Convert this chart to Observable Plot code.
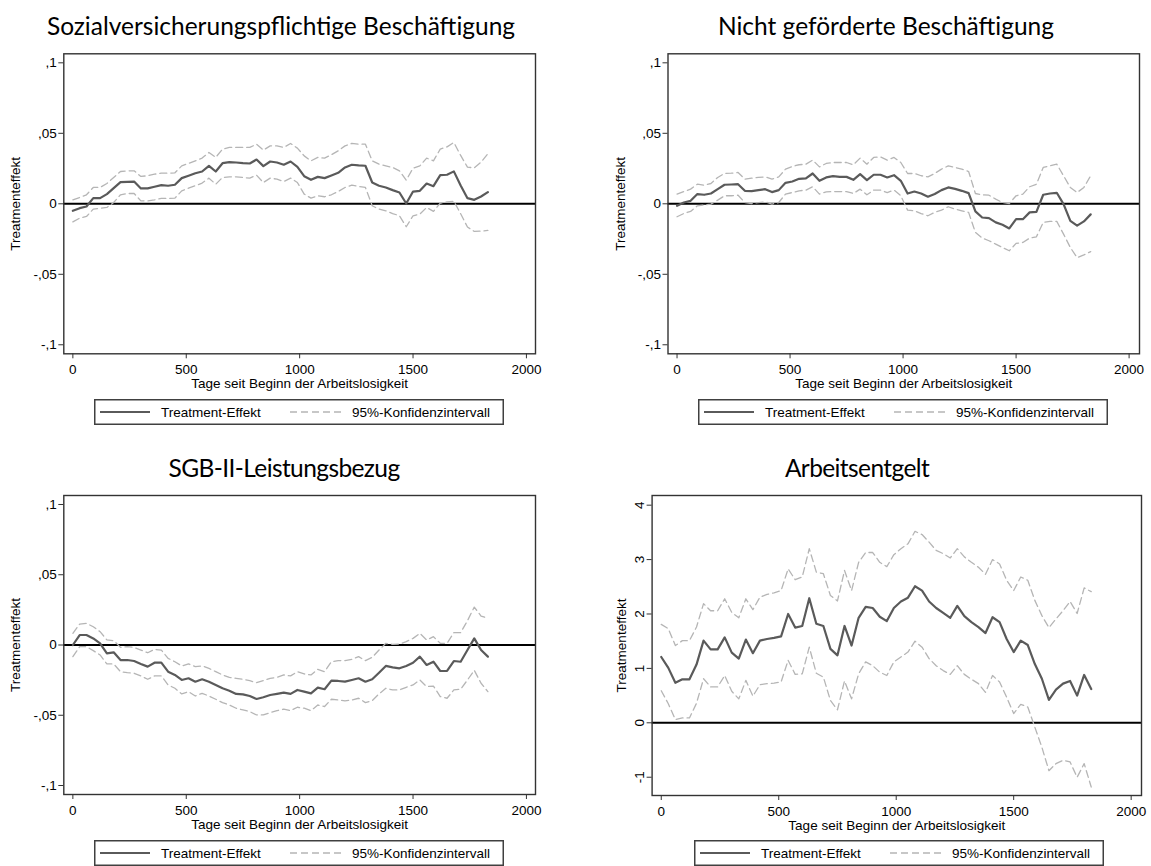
<!DOCTYPE html>
<html>
<head>
<meta charset="utf-8">
<script src="https://cdn.jsdelivr.net/npm/d3@7"></script>
<script src="https://cdn.jsdelivr.net/npm/@observablehq/plot@0.6"></script>
<style>
  html, body { margin: 0; padding: 0; background: #fff; }
  #root { position: relative; width: 1151px; height: 866px; overflow: hidden; background: #fff; }
  #root svg { position: absolute; }
  .title { position: absolute; transform: translateX(-50%); white-space: nowrap;
           font-family: Lato, "Open Sans", sans-serif; font-size: 24.5px; line-height: 1; color: #000; }
</style>
</head>
<body>
<div id="root"></div>
<script>
// ---------- data ----------
const days = [0,30,60,90,120,150,180,210,240,270,300,330,360,390,420,450,480,510,540,570,600,630,660,690,720,750,780,810,840,870,900,930,960,990,1020,1050,1080,1110,1140,1170,1200,1230,1260,1290,1320,1350,1380,1410,1440,1470,1500,1530,1560,1590,1620,1650,1680,1710,1740,1770,1800,1830];

const titles = ["Sozialversicherungspflichtige Beschäftigung", "Nicht geförderte Beschäftigung", "SGB-II-Leistungsbezug", "Arbeitsentgelt"];
const xLabel = "Tage seit Beginn der Arbeitslosigkeit";
const yLabel = "Treatmenteffekt";
const legendLabels = ["Treatment-Effekt", "95%-Konfidenzintervall"];

const xTicks = [0, 500, 1000, 1500, 2000];
const xTickLabels = ["0", "500", "1000", "1500", "2000"];
const shareTicks = [-0.1, -0.05, 0, 0.05, 0.1];
const shareTickLabels = ["-,1", "-,05", "0", ",05", ",1"];
const wageTicks = [-1, 0, 1, 2, 3, 4];
const wageTickLabels = ["-1", "0", "1", "2", "3", "4"];

// Sozialversicherungspflichtige Beschäftigung
const svbEffect = [-0.0050,-0.0031,-0.0019,0.0040,0.0040,0.0069,0.0111,0.0154,0.0156,0.0158,
  0.0109,0.0109,0.0121,0.0132,0.0128,0.0135,0.0182,0.0199,0.0217,0.0229,
  0.0269,0.0229,0.0288,0.0295,0.0293,0.0288,0.0286,0.0314,0.0267,0.0300,
  0.0293,0.0277,0.0300,0.0262,0.0196,0.0170,0.0191,0.0182,0.0201,0.0220,
  0.0258,0.0277,0.0272,0.0270,0.0151,0.0128,0.0116,0.0097,0.0080,0.0002,
  0.0087,0.0092,0.0144,0.0125,0.0203,0.0206,0.0230,0.0130,0.0040,0.0028,
  0.0052,0.0083];
const svbUpper = [0.0028,0.0045,0.0064,0.0116,0.0116,0.0144,0.0187,0.0229,0.0234,0.0234,
  0.0194,0.0199,0.0210,0.0217,0.0217,0.0220,0.0269,0.0286,0.0305,0.0324,
  0.0364,0.0329,0.0388,0.0400,0.0400,0.0400,0.0400,0.0423,0.0381,0.0411,
  0.0411,0.0400,0.0428,0.0395,0.0340,0.0305,0.0329,0.0324,0.0348,0.0376,
  0.0411,0.0428,0.0423,0.0423,0.0305,0.0281,0.0269,0.0258,0.0234,0.0168,
  0.0253,0.0269,0.0324,0.0305,0.0388,0.0404,0.0435,0.0343,0.0260,0.0255,
  0.0296,0.0355];
const svbLower = [-0.0128,-0.0102,-0.0090,-0.0038,-0.0031,-0.0026,0.0009,0.0064,0.0073,0.0073,
  0.0021,0.0021,0.0028,0.0038,0.0038,0.0040,0.0092,0.0111,0.0128,0.0147,
  0.0182,0.0139,0.0187,0.0191,0.0191,0.0187,0.0182,0.0203,0.0151,0.0182,
  0.0175,0.0158,0.0182,0.0151,0.0069,0.0040,0.0057,0.0050,0.0064,0.0087,
  0.0116,0.0132,0.0123,0.0116,-0.0014,-0.0038,-0.0050,-0.0069,-0.0085,-0.0163,
  -0.0085,-0.0073,-0.0026,-0.0054,0.0005,0.0014,0.0018,-0.0071,-0.0165,-0.0196,
  -0.0194,-0.0189];

// Nicht geförderte Beschäftigung
const ngbEffect = [-0.0014,0.0009,0.0021,0.0069,0.0064,0.0073,0.0104,0.0135,0.0137,0.0139,
  0.0092,0.0090,0.0097,0.0104,0.0083,0.0097,0.0149,0.0158,0.0177,0.0180,
  0.0215,0.0163,0.0187,0.0196,0.0191,0.0191,0.0170,0.0210,0.0168,0.0206,
  0.0206,0.0187,0.0203,0.0163,0.0073,0.0087,0.0073,0.0050,0.0069,0.0097,
  0.0116,0.0106,0.0092,0.0076,-0.0054,-0.0097,-0.0102,-0.0132,-0.0149,-0.0175,
  -0.0109,-0.0109,-0.0061,-0.0057,0.0064,0.0073,0.0078,-0.0002,-0.0121,-0.0155,
  -0.0125,-0.0075];
const ngbUpper = [0.0069,0.0087,0.0104,0.0139,0.0132,0.0144,0.0187,0.0215,0.0217,0.0222,
  0.0175,0.0182,0.0187,0.0191,0.0175,0.0191,0.0246,0.0265,0.0277,0.0281,
  0.0310,0.0262,0.0286,0.0293,0.0293,0.0293,0.0277,0.0324,0.0281,0.0329,
  0.0333,0.0310,0.0329,0.0293,0.0215,0.0215,0.0199,0.0191,0.0215,0.0246,
  0.0269,0.0258,0.0246,0.0229,0.0073,0.0064,0.0061,0.0033,0.0009,0.0002,
  0.0057,0.0069,0.0121,0.0139,0.0258,0.0269,0.0281,0.0199,0.0116,0.0080,
  0.0116,0.0199];
const ngbLower = [-0.0092,-0.0069,-0.0054,-0.0014,-0.0009,-0.0002,0.0026,0.0057,0.0057,0.0061,
  0.0009,0.0002,0.0009,0.0014,-0.0002,0.0009,0.0069,0.0080,0.0092,0.0097,
  0.0121,0.0069,0.0085,0.0087,0.0087,0.0087,0.0073,0.0104,0.0064,0.0097,
  0.0097,0.0080,0.0097,0.0057,-0.0045,-0.0050,-0.0069,-0.0085,-0.0061,-0.0045,
  -0.0021,-0.0038,-0.0050,-0.0061,-0.0203,-0.0243,-0.0262,-0.0286,-0.0310,-0.0333,
  -0.0281,-0.0274,-0.0243,-0.0234,-0.0132,-0.0125,-0.0125,-0.0215,-0.0310,-0.0382,
  -0.0363,-0.0339];

// SGB-II-Leistungsbezug
const sgbEffect = [0.0000,0.0071,0.0071,0.0047,0.0012,-0.0059,-0.0052,-0.0107,-0.0107,-0.0114,
  -0.0135,-0.0154,-0.0126,-0.0126,-0.0190,-0.0213,-0.0249,-0.0237,-0.0261,-0.0244,
  -0.0261,-0.0284,-0.0308,-0.0325,-0.0348,-0.0351,-0.0363,-0.0384,-0.0372,-0.0356,
  -0.0348,-0.0339,-0.0348,-0.0320,-0.0332,-0.0344,-0.0303,-0.0315,-0.0254,-0.0256,
  -0.0261,-0.0249,-0.0237,-0.0261,-0.0244,-0.0197,-0.0149,-0.0159,-0.0166,-0.0149,
  -0.0126,-0.0083,-0.0142,-0.0119,-0.0185,-0.0185,-0.0114,-0.0119,-0.0036,0.0047,
  -0.0036,-0.0083];
const sgbUpper = [0.0083,0.0149,0.0154,0.0130,0.0095,0.0036,0.0031,-0.0017,-0.0012,-0.0017,
  -0.0036,-0.0055,-0.0031,-0.0036,-0.0095,-0.0119,-0.0149,-0.0135,-0.0154,-0.0149,
  -0.0166,-0.0190,-0.0213,-0.0230,-0.0237,-0.0244,-0.0254,-0.0268,-0.0254,-0.0237,
  -0.0230,-0.0213,-0.0220,-0.0190,-0.0206,-0.0213,-0.0173,-0.0190,-0.0119,-0.0111,
  -0.0111,-0.0102,-0.0083,-0.0111,-0.0088,-0.0036,0.0012,0.0005,0.0007,0.0024,
  0.0047,0.0083,0.0036,0.0059,0.0012,0.0012,0.0088,0.0088,0.0173,0.0270,
  0.0206,0.0190];
const sgbLower = [-0.0083,-0.0012,-0.0012,-0.0040,-0.0071,-0.0135,-0.0135,-0.0190,-0.0197,-0.0201,
  -0.0220,-0.0244,-0.0220,-0.0220,-0.0284,-0.0308,-0.0348,-0.0332,-0.0363,-0.0344,
  -0.0363,-0.0386,-0.0410,-0.0427,-0.0450,-0.0462,-0.0474,-0.0498,-0.0498,-0.0481,
  -0.0467,-0.0457,-0.0467,-0.0443,-0.0450,-0.0467,-0.0427,-0.0438,-0.0386,-0.0391,
  -0.0398,-0.0391,-0.0379,-0.0410,-0.0396,-0.0348,-0.0308,-0.0320,-0.0320,-0.0301,
  -0.0284,-0.0249,-0.0296,-0.0292,-0.0367,-0.0379,-0.0320,-0.0315,-0.0249,-0.0180,
  -0.0272,-0.0332];

// Arbeitsentgelt
const wageEffect = [1.21,1.01,0.735,0.80,0.80,1.07,1.51,1.35,1.35,1.57,
  1.29,1.18,1.53,1.28,1.51,1.54,1.56,1.59,2.00,1.75,
  1.78,2.29,1.82,1.78,1.36,1.24,1.78,1.42,1.93,2.13,
  2.11,1.95,1.87,2.11,2.23,2.30,2.51,2.43,2.23,2.11,
  2.02,1.93,2.15,1.96,1.85,1.76,1.65,1.94,1.85,1.54,
  1.30,1.51,1.43,1.08,0.81,0.42,0.61,0.72,0.77,0.50,
  0.88,0.62];
const wageUpper = [1.81,1.73,1.42,1.51,1.51,1.76,2.19,2.06,2.06,2.28,
  2.03,1.93,2.28,2.08,2.31,2.36,2.39,2.43,2.83,2.63,
  2.68,3.20,2.77,2.74,2.34,2.24,2.80,2.43,2.95,3.13,
  3.13,2.95,2.87,3.09,3.20,3.29,3.52,3.46,3.32,3.17,
  3.11,3.03,3.20,3.05,2.95,2.86,2.73,3.00,2.92,2.62,
  2.43,2.68,2.62,2.25,1.97,1.75,1.91,2.06,2.23,2.01,
  2.48,2.41];
const wageLower = [0.59,0.35,0.06,0.09,0.09,0.36,0.81,0.66,0.66,0.87,
  0.58,0.44,0.78,0.49,0.70,0.72,0.73,0.75,1.15,0.89,
  0.90,1.39,0.91,0.84,0.41,0.24,0.77,0.44,0.90,1.12,
  1.05,0.93,0.87,1.12,1.21,1.30,1.50,1.39,1.18,1.05,
  0.96,0.89,1.05,0.89,0.80,0.72,0.56,0.87,0.75,0.47,
  0.17,0.34,0.29,-0.08,-0.45,-0.88,-0.75,-0.69,-0.72,-1.00,
  -0.75,-1.18];

// ---------- styling / layout ----------
const EFFECT_COLOR = "#5a5a5a";
const CI_COLOR = "#b5b5b5";
const FRAME_COLOR = "#333333";
const FONT = '"Liberation Sans", Arial, sans-serif';

const panels = [
  {title: titles[0], effect: svbEffect, lower: svbLower, upper: svbUpper,
   ticks: shareTicks, tickLabels: shareTickLabels, yDomain: [-0.1064, 0.1064], xDomain: [-40, 2040],
   left: 0, top: 0, w: 575, h: 433, mL: 63.3, mR: 40, mT: 53.3, mB: 79.7, yTitleDx: -48.3, rotate: 0,
   titleX: 281, titleTop: 14, titleSpacing: 0, legendX: 299, legendTop: 399},
  {title: titles[1], effect: ngbEffect, lower: ngbLower, upper: ngbUpper,
   ticks: shareTicks, tickLabels: shareTickLabels, yDomain: [-0.1064, 0.1064], xDomain: [-40, 2046],
   left: 575, top: 0, w: 576, h: 433, mL: 92.5, mR: 12, mT: 53.3, mB: 79.7, yTitleDx: -47.5, rotate: 0,
   titleX: 886, titleTop: 14, titleSpacing: 0, legendX: 903, legendTop: 399},
  {title: titles[2], effect: sgbEffect, lower: sgbLower, upper: sgbUpper,
   ticks: shareTicks, tickLabels: shareTickLabels, yDomain: [-0.1064, 0.1064], xDomain: [-40, 2040],
   left: 0, top: 433, w: 575, h: 433, mL: 63.3, mR: 40, mT: 62, mB: 72, yTitleDx: -48.3, rotate: 0,
   titleX: 284, titleTop: 456, titleSpacing: -0.6, legendX: 299, legendTop: 840},
  {title: titles[3], effect: wageEffect, lower: wageLower, upper: wageUpper,
   ticks: wageTicks, tickLabels: wageTickLabels, yDomain: [-1.336, 4.178], xDomain: [-39, 2044],
   left: 575, top: 433, w: 576, h: 433, mL: 76.6, mR: 10, mT: 62, mB: 71, yTitleDx: -30.8, rotate: -90,
   titleX: 857, titleTop: 456, titleSpacing: -0.6, legendX: 899, legendTop: 840}
];

const root = document.getElementById("root");

function legendSvg() {
  const W = 410, H = 26;
  const s = d3.create("svg").attr("width", W).attr("height", H)
    .style("font-family", FONT).style("font-size", "13.5px");
  s.append("rect").attr("x", 0.75).attr("y", 0.75).attr("width", W - 1.5).attr("height", H - 1.5)
    .attr("fill", "#fff").attr("stroke", "#404040").attr("stroke-width", 1.5);
  s.append("line").attr("x1", 6).attr("x2", 56).attr("y1", 13).attr("y2", 13)
    .attr("stroke", EFFECT_COLOR).attr("stroke-width", 2.2);
  s.append("text").attr("x", 67).attr("y", 13).attr("dy", "0.35em").attr("fill", "#000").text(legendLabels[0]);
  s.append("line").attr("x1", 196).attr("x2", 249).attr("y1", 13).attr("y2", 13)
    .attr("stroke", CI_COLOR).attr("stroke-width", 1.3).attr("stroke-dasharray", "7,4");
  s.append("text").attr("x", 258).attr("y", 13).attr("dy", "0.35em").attr("fill", "#000").text(legendLabels[1]);
  return s.node();
}

for (const p of panels) {
  const rows = days.map((d, i) => ({day: d, effect: p.effect[i], lower: p.lower[i], upper: p.upper[i]}));
  const svg = Plot.plot({
    width: p.w, height: p.h,
    marginLeft: p.mL, marginRight: p.mR, marginTop: p.mT, marginBottom: p.mB,
    style: {fontFamily: FONT, fontSize: "13.5px", color: "#000", background: "transparent", overflow: "visible"},
    x: {domain: p.xDomain},
    y: {domain: p.yDomain},
    marks: [
      Plot.ruleY([0], {stroke: "#000", strokeWidth: 2}),
      Plot.line(rows, {x: "day", y: "upper", stroke: CI_COLOR, strokeWidth: 1.3, strokeDasharray: "7,4"}),
      Plot.line(rows, {x: "day", y: "lower", stroke: CI_COLOR, strokeWidth: 1.3, strokeDasharray: "7,4"}),
      Plot.line(rows, {x: "day", y: "effect", stroke: EFFECT_COLOR, strokeWidth: 2.2}),
      Plot.frame({stroke: FRAME_COLOR, strokeWidth: 1.4}),
      Plot.axisX({ticks: xTicks, tickFormat: d => xTickLabels[xTicks.indexOf(d)], tickSize: 5, tickPadding: 6,
                  label: null, fontSize: 13.5, stroke: FRAME_COLOR}),
      Plot.axisY({ticks: p.ticks, tickFormat: d => p.tickLabels[p.ticks.indexOf(d)], tickSize: 5,
                  tickPadding: p.rotate ? 3 : 2, tickRotate: p.rotate, label: null, fontSize: 13.5, stroke: FRAME_COLOR}),
      Plot.text([xLabel], {frameAnchor: "bottom", dy: 30, text: d => d, fontSize: 13.5, textAnchor: "middle",
                           lineAnchor: "middle", fill: "#000"}),
      Plot.text([yLabel], {frameAnchor: "left", dx: p.yTitleDx, rotate: -90, text: d => d, fontSize: 13.5,
                           textAnchor: "middle", lineAnchor: "middle", fill: "#000"})
    ]
  });
  svg.style.left = p.left + "px";
  svg.style.top = p.top + "px";
  root.appendChild(svg);

  const t = document.createElement("div");
  t.className = "title";
  t.textContent = p.title;
  t.style.left = p.titleX + "px";
  t.style.top = p.titleTop + "px";
  t.style.letterSpacing = p.titleSpacing + "px";
  root.appendChild(t);

  const lg = legendSvg();
  lg.style.left = (p.legendX - 205) + "px";
  lg.style.top = p.legendTop + "px";
  root.appendChild(lg);
}
</script>
</body>
</html>
